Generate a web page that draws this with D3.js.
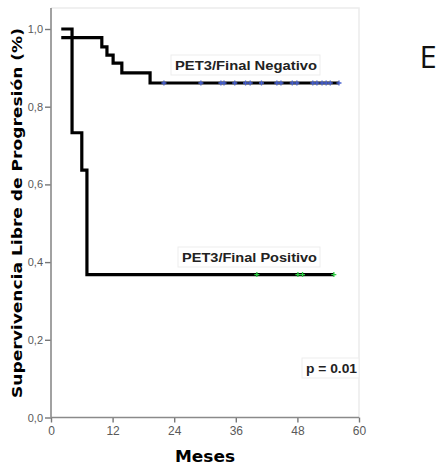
<!DOCTYPE html>
<html>
<head>
<meta charset="utf-8">
<script src="https://cdn.jsdelivr.net/npm/d3@7"></script>
<style>
  body { margin: 0; background: #fff; }
  svg { display: block; }
</style>
</head>
<body>
<div class="graphic"></div>
<script>
// Kaplan-Meier step data (months, survival proportion)
var negTimes = [2, 9.9, 10.9, 12.1, 13.8, 19.3, 56.1];
var negSurv = [0.978, 0.954, 0.933, 0.912, 0.887, 0.861, 0.861];
var negCensored = [22.0, 29.2, 33.1, 33.7, 35.8, 37.9, 38.8, 41.0, 44.0, 44.8, 47.0, 47.9, 51.0, 51.8, 52.8, 53.6, 54.4, 56.1];

var posTimes = [2, 4.1, 6.0, 7.0, 55.1];
var posSurv = [1.0, 0.733, 0.637, 0.368, 0.368];
var posCensored = [40.1, 48.1, 49.0, 55.1];

var xTicks = [0, 12, 24, 36, 48, 60];
var yTicks = [0, 0.2, 0.4, 0.6, 0.8, 1.0];

var width = 440, height = 467;

var svg = d3.select(".graphic")
    .append("svg")
    .attr("width", width)
    .attr("height", height);

var x = d3.scaleLinear().domain([0, 60]).range([51, 359]);
var y = d3.scaleLinear().domain([0, 1]).range([417.5, 29]);
var plotTop = 8;

// light frame (top + right)
svg.append("path")
    .attr("d", `M${x(0)},${plotTop}H${x(60)}V${y(0)}`)
    .attr("fill", "none")
    .attr("stroke", "#ececec")
    .attr("stroke-width", 1.5);

var fmt = function (d) { return d3.format(".1f")(d).replace(".", ","); };

// y axis
var yAxis = svg.append("g")
    .attr("transform", `translate(${x(0)},0)`)
    .call(d3.axisLeft(y).tickValues(yTicks).tickFormat(fmt).tickSize(6).tickPadding(2));
yAxis.select(".domain").remove();
yAxis.append("line")
    .attr("y1", plotTop).attr("y2", y(0))
    .attr("stroke", "#8a8a8a").attr("stroke-width", 1.6);
yAxis.selectAll(".tick line").attr("stroke", "#777").attr("stroke-width", 1.4);
yAxis.selectAll("text")
    .attr("fill", "#5a5a5a")
    .style("font-family", "Liberation Sans, Arial, sans-serif")
    .style("font-size", "11px");

// x axis
var xAxis = svg.append("g")
    .attr("transform", `translate(0,${y(0)})`)
    .call(d3.axisBottom(x).tickValues(xTicks).tickSize(5).tickPadding(4));
xAxis.select(".domain").remove();
xAxis.append("line")
    .attr("x1", x(0)).attr("x2", x(60))
    .attr("stroke", "#8a8a8a").attr("stroke-width", 1.6);
xAxis.selectAll(".tick line").attr("stroke", "#777").attr("stroke-width", 1.4);
xAxis.selectAll("text")
    .attr("fill", "#5a5a5a")
    .style("font-family", "Liberation Sans, Arial, sans-serif")
    .style("font-size", "12px");

// curves
var line = d3.line()
    .x(function (d) { return x(d[0]); })
    .y(function (d) { return y(d[1]); })
    .curve(d3.curveStepAfter);

function drawCurve(times, surv, censored, color) {
    var pts = times.map(function (t, i) { return [t, surv[i]]; });
    svg.append("path")
        .datum(pts)
        .attr("d", line)
        .attr("fill", "none")
        .attr("stroke", "#000")
        .attr("stroke-width", 3.2);

    // censor marks sit on the curve value at that time
    var marks = censored.map(function (t) {
        var i = d3.bisectRight(times, t) - 1;
        return [t, surv[Math.max(i, 0)]];
    });
    svg.append("g")
        .selectAll("path")
        .data(marks)
        .join("path")
        .attr("d", function (d) {
            var cx = x(d[0]), cy = y(d[1]);
            return `M${cx - 2.5},${cy}H${cx + 2.5}M${cx},${cy - 2.5}V${cy + 2.5}`;
        })
        .attr("stroke", color)
        .attr("stroke-width", 1.3);
}

drawCurve(negTimes, negSurv, negCensored, "#4a63d0");
drawCurve(posTimes, posSurv, posCensored, "#2fcf45");

// labels in boxes
function boxLabel(txt, x0, y0, w, h, len) {
    var g = svg.append("g");
    g.append("rect")
        .attr("x", x0).attr("y", y0).attr("width", w).attr("height", h)
        .attr("fill", "#fff").attr("stroke", "#ededed");
    g.append("text")
        .attr("x", x0 + 4).attr("y", y0 + h / 2 + 4.5)
        .attr("textLength", len)
        .attr("lengthAdjust", "spacingAndGlyphs")
        .style("font-family", "Liberation Sans, Arial, sans-serif")
        .style("font-weight", "bold")
        .style("font-size", "12px")
        .attr("fill", "#222")
        .text(txt);
}
boxLabel("PET3/Final Negativo", 171, 55, 149, 20, 142);
boxLabel("PET3/Final Positivo", 178, 247, 142, 20, 135);
boxLabel("p = 0.01", 302, 358, 57, 20, 51);

// axis titles
svg.append("text")
    .attr("transform", "translate(22,213) rotate(-90)")
    .attr("text-anchor", "middle")
    .attr("textLength", 370)
    .attr("lengthAdjust", "spacingAndGlyphs")
    .style("font-family", "DejaVu Sans, sans-serif")
    .style("font-weight", "bold")
    .style("font-size", "13.5px")
    .attr("fill", "#000")
    .text("Supervivencia Libre de Progresión (%)");

svg.append("text")
    .attr("x", 205).attr("y", 462)
    .attr("text-anchor", "middle")
    .attr("textLength", 60)
    .attr("lengthAdjust", "spacingAndGlyphs")
    .style("font-family", "DejaVu Sans, sans-serif")
    .style("font-weight", "bold")
    .style("font-size", "15px")
    .attr("fill", "#000")
    .text("Meses");

svg.append("text")
    .attr("x", 428).attr("y", 68)
    .attr("text-anchor", "middle")
    .style("font-family", "Open Sans, sans-serif")
    .style("font-weight", "400")
    .style("font-size", "31px")
    .attr("fill", "#111")
    .text("E");
</script>
</body>
</html>
